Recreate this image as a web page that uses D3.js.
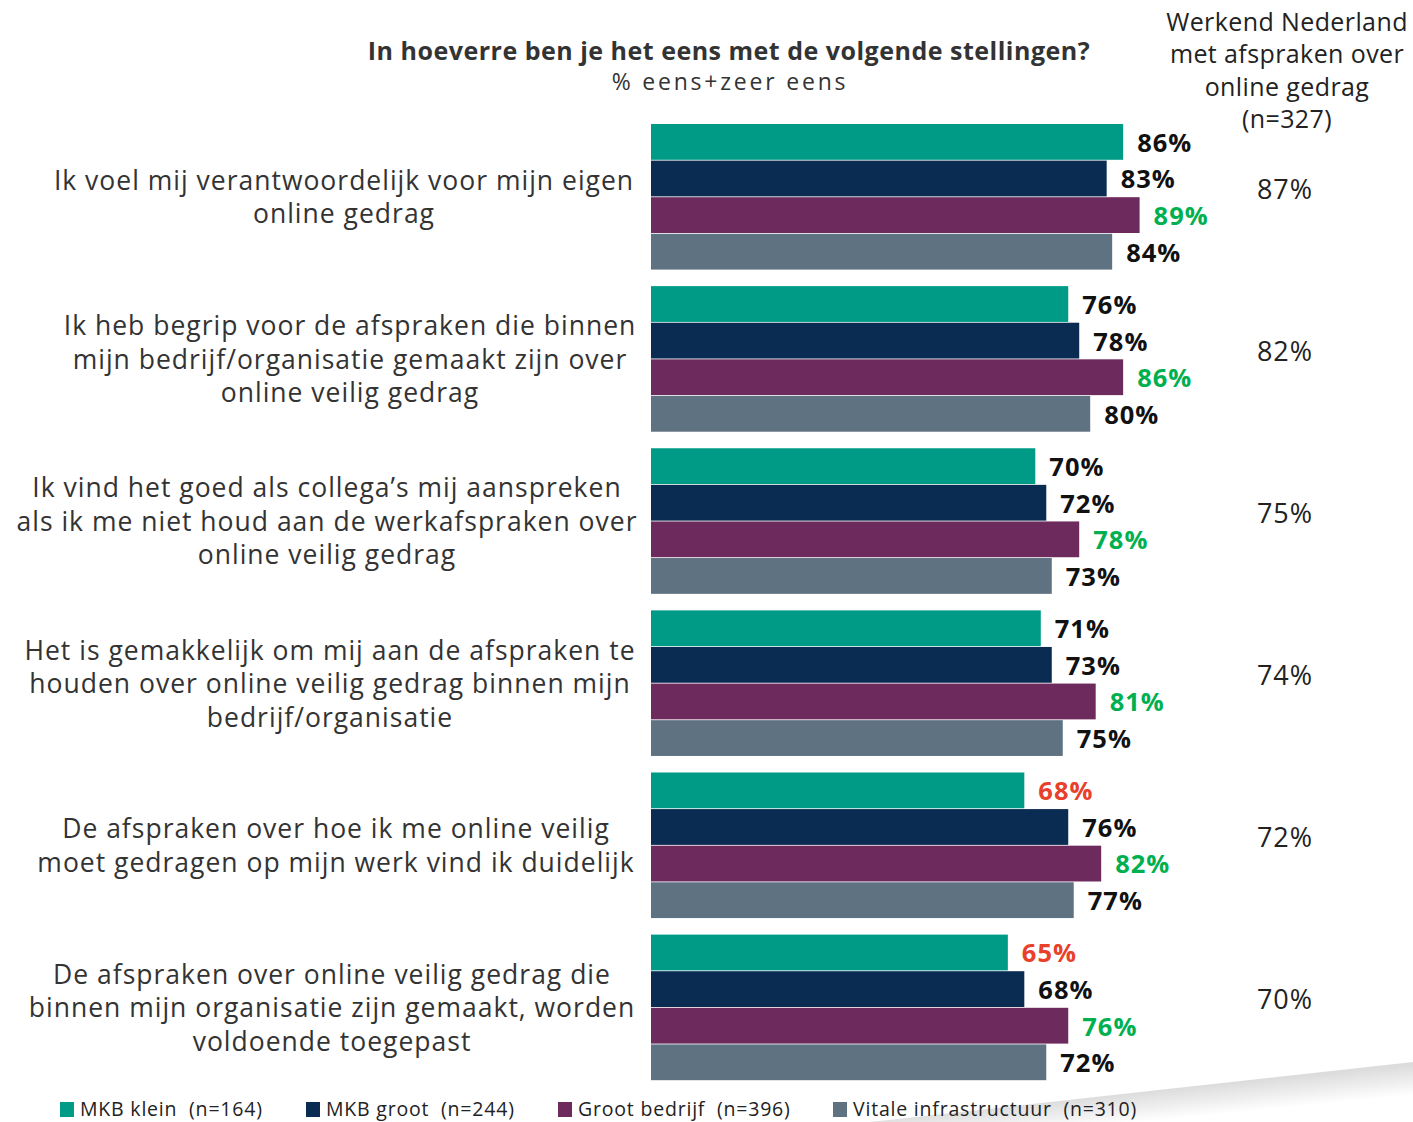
<!DOCTYPE html>
<html>
<head>
<meta charset="utf-8">
<script src="https://cdn.jsdelivr.net/npm/d3@7"></script>
<style>
  html, body { margin: 0; padding: 0; background: #fff; }
  svg { display: block; }
  text { font-family: "Open Sans", "Noto Sans", sans-serif; }
</style>
</head>
<body>
<svg id="chart" width="1413" height="1122"></svg>
<script>
// Statements (each entry is a list of wrapped lines)
const statements = [
  ["Ik voel mij verantwoordelijk voor mijn eigen", "online gedrag"],
  ["Ik heb begrip voor de afspraken die binnen", "mijn bedrijf/organisatie gemaakt zijn over", "online veilig gedrag"],
  ["Ik vind  het goed als collega\u2019s mij  aanspreken", "als ik me niet houd aan de werkafspraken  over", "online veilig  gedrag"],
  ["Het is gemakkelijk om mij aan de afspraken te", "houden over online veilig gedrag binnen mijn", "bedrijf/organisatie"],
  ["De afspraken over hoe ik me online veilig", "moet gedragen op mijn werk vind ik duidelijk"],
  ["De afspraken over online veilig gedrag die", "binnen mijn organisatie zijn gemaakt, worden", "voldoende toegepast"]
];

const seriesNames = ["MKB klein  (n=164)", "MKB groot  (n=244)", "Groot bedrijf  (n=396)", "Vitale infrastructuur  (n=310)"];

// % eens + zeer eens per segment
const mkbKlein     = [86, 76, 70, 71, 68, 65];
const mkbGroot     = [83, 78, 72, 73, 76, 68];
const grootBedrijf = [89, 86, 78, 81, 82, 76];
const vitaal       = [84, 80, 73, 75, 77, 72];

// Significance vs. total: "up" = higher, "down" = lower, "" = none
const sigKlein  = ["", "", "", "", "down", "down"];
const sigGroot  = ["", "", "", "", "", ""];
const sigGroot2 = ["up", "up", "up", "up", "up", "up"];
const sigVitaal = ["", "", "", "", "", ""];

// Total working population with agreements
const totalHeader = ["Werkend Nederland", "met afspraken over", "online gedrag", "(n=327)"];
const totalValues = [87, 82, 75, 74, 72, 70];

const title = "In hoeverre ben je het eens met de volgende stellingen?";
const subtitle = "% eens+zeer eens";

// ---- layout ----
const colors = ["#009B87", "#0A2C52", "#6D2A5C", "#5F7282"];
const sigColors = { up: "#00B050", down: "#E8402A", "": "#111111" };
const labelCenters = [344, 350, 327, 330, 336, 332];
const legendX = [60, 306, 558, 833];

const svg = d3.select("#chart");

const seriesValues = [mkbKlein, mkbGroot, grootBedrijf, vitaal];
const seriesSig = [sigKlein, sigGroot, sigGroot2, sigVitaal];

const rows = statements.map((lines, i) => ({
  i, lines,
  bars: seriesValues.map((vals, s) => ({ s, value: vals[i], sig: seriesSig[s][i] })),
  total: totalValues[i]
}));

const x = d3.scaleLinear().domain([0, 100]).range([651, 1200]);
const yGroup = d3.scaleBand().domain(d3.range(rows.length)).range([124, 1081]).paddingInner(0.097).paddingOuter(0);
const ySeries = d3.scaleBand().domain(d3.range(seriesNames.length)).range([0, yGroup.bandwidth()]).padding(0);

// background swoosh at the bottom right
const defs = svg.append("defs");
const grad = defs.append("linearGradient")
  .attr("id", "swoosh").attr("gradientUnits", "userSpaceOnUse")
  .attr("x1", 1140).attr("y1", 1092).attr("x2", 1143).attr("y2", 1122);
grad.append("stop").attr("offset", 0).attr("stop-color", "#dcdcdc");
grad.append("stop").attr("offset", 1).attr("stop-color", "#ffffff");
svg.append("path")
  .attr("d", "M870,1122 L1413,1062 L1413,1122 Z")
  .attr("fill", "url(#swoosh)");

// title
svg.append("text").attr("x", 729).attr("y", 60).attr("text-anchor", "middle")
  .attr("font-size", 25).attr("font-weight", 700).attr("fill", "#333")
  .attr("letter-spacing", 0.5)
  .text(title);
svg.append("text").attr("x", 730).attr("y", 90).attr("text-anchor", "middle")
  .attr("font-size", 23).attr("fill", "#333").attr("letter-spacing", 2.8)
  .text(subtitle);

// right-hand column header
svg.append("g").selectAll("text").data(totalHeader).join("text")
  .attr("x", 1287).attr("y", (d, i) => 31 + i * 32.3)
  .attr("text-anchor", "middle").attr("font-size", 25).attr("fill", "#222")
  .attr("letter-spacing", 0.4)
  .text(d => d);

const g = svg.append("g").selectAll("g.row").data(rows).join("g")
  .attr("class", "row")
  .attr("transform", d => `translate(0,${yGroup(d.i)})`);

// statement labels
g.each(function(d) {
  const n = d.lines.length;
  const mid = yGroup.bandwidth() / 2;
  d3.select(this).append("g").selectAll("text").data(d.lines).join("text")
    .attr("x", labelCenters[d.i])
    .attr("y", (l, k) => mid + (k - (n - 1) / 2) * 33.5 + 9.5)
    .attr("text-anchor", "middle")
    .attr("font-size", 26.5).attr("fill", "#333")
    .attr("letter-spacing", 1)
    .text(l => l);
});

// bars
g.selectAll("rect").data(d => d.bars).join("rect")
  .attr("x", x(0))
  .attr("y", b => ySeries(b.s))
  .attr("width", b => x(b.value) - x(0))
  .attr("height", ySeries.bandwidth() - 0.8)
  .attr("fill", b => colors[b.s]);

// value labels
g.selectAll("text.val").data(d => d.bars).join("text")
  .attr("class", "val")
  .attr("x", b => x(b.value) + 14)
  .attr("y", b => ySeries(b.s) + ySeries.bandwidth() / 2 + 9.5)
  .attr("font-size", 25.5).attr("font-weight", 700)
  .attr("letter-spacing", 1)
  .attr("fill", b => sigColors[b.sig])
  .text(b => b.value + "%");

// total column values
g.append("text")
  .attr("x", 1285)
  .attr("y", yGroup.bandwidth() / 2 + 1.5)
  .attr("text-anchor", "middle").attr("font-size", 27).attr("fill", "#222")
  .attr("letter-spacing", 1)
  .text(d => d.total + "%");

// legend
const leg = svg.append("g").selectAll("g").data(seriesNames).join("g")
  .attr("transform", (d, i) => `translate(${legendX[i]},1102)`);
leg.append("rect").attr("width", 14).attr("height", 15).attr("fill", (d, i) => colors[i]);
leg.append("text").attr("x", 20).attr("y", 13.5)
  .attr("font-size", 19.5).attr("fill", "#222")
  .attr("letter-spacing", 0.8)
  .attr("xml:space", "preserve")
  .text(d => d);
</script>
</body>
</html>
